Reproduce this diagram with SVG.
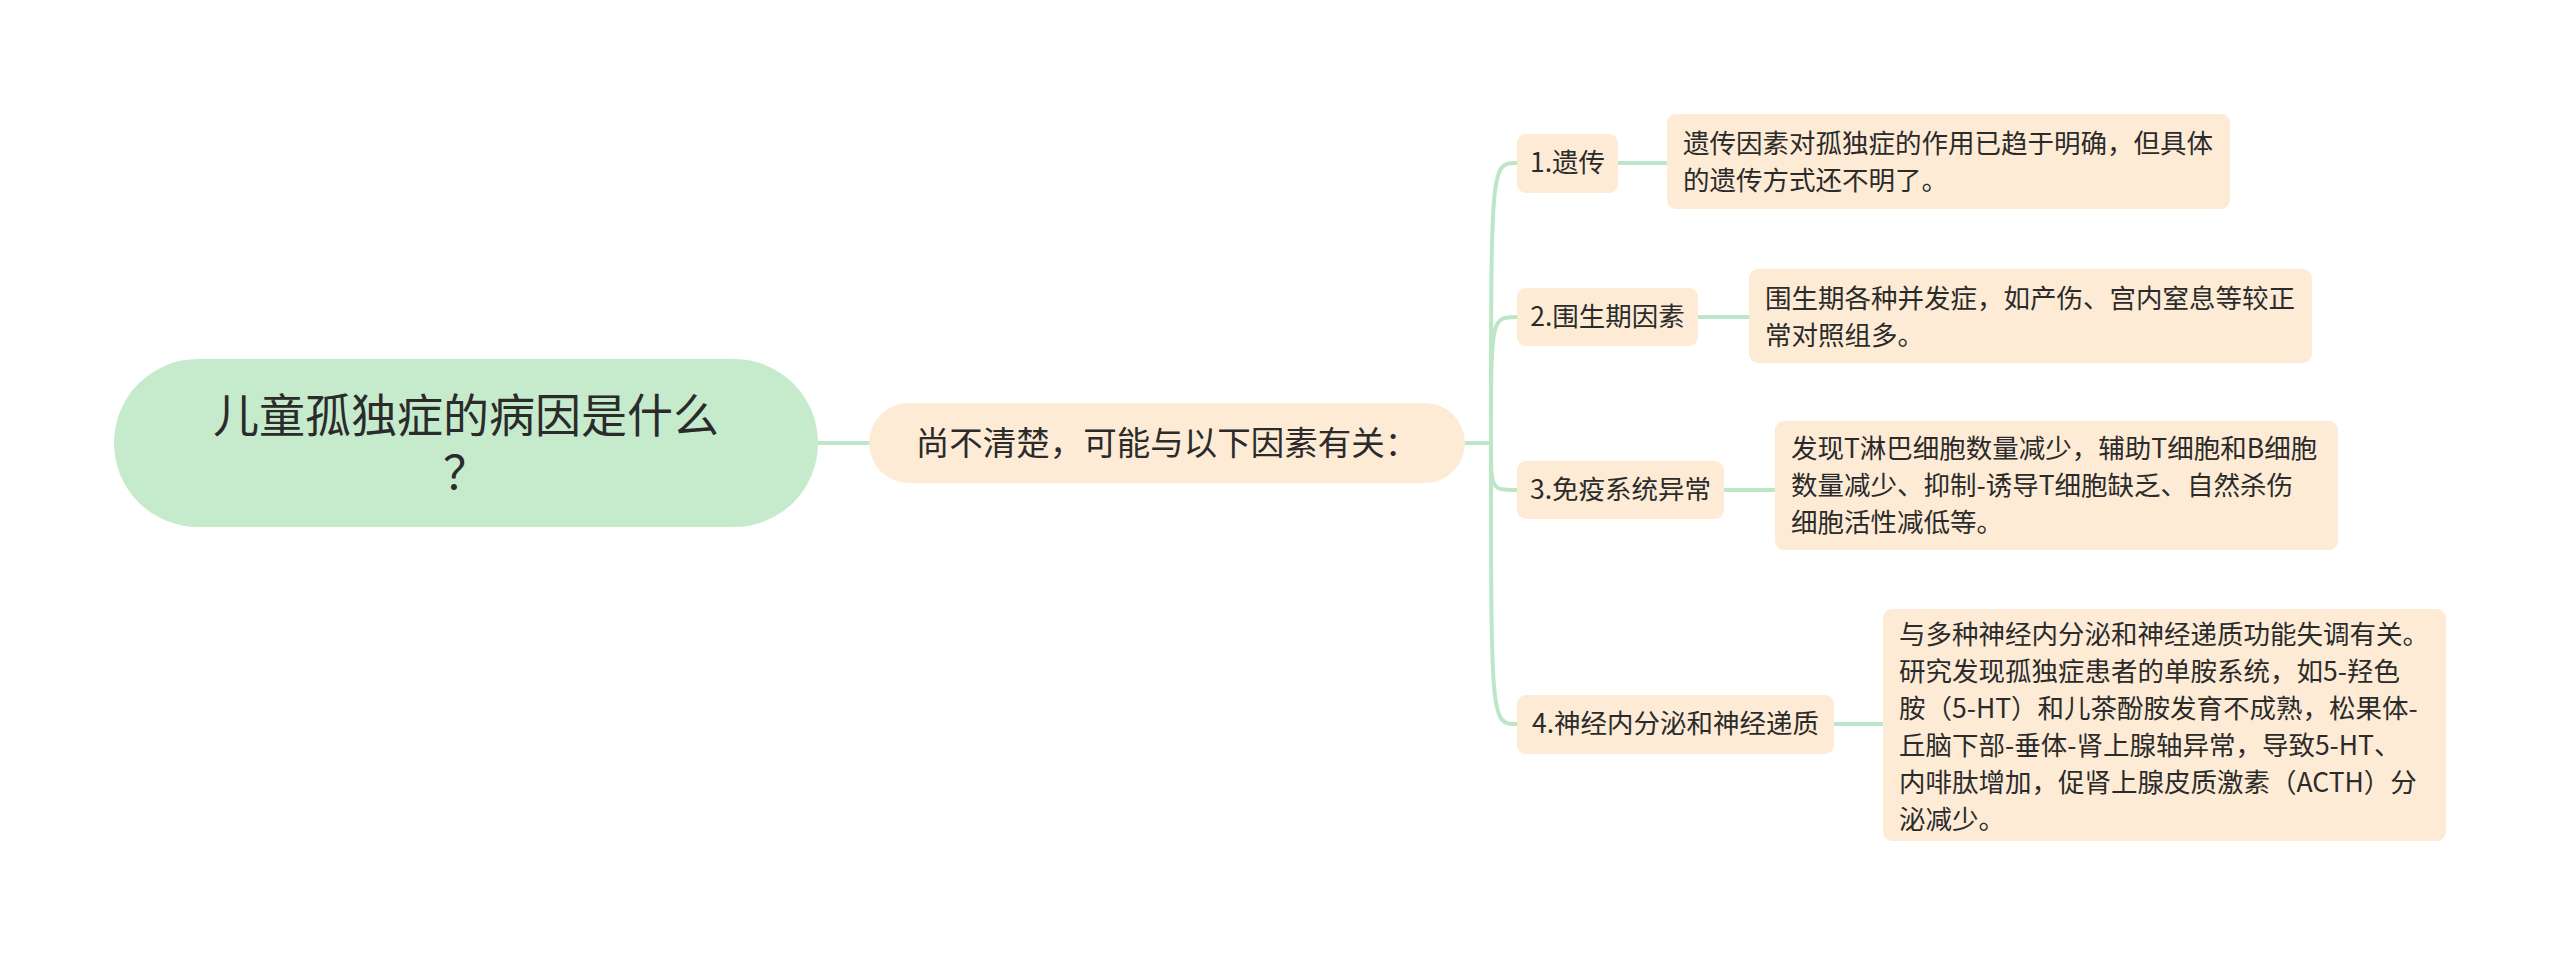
<svg xmlns="http://www.w3.org/2000/svg" width="2560" height="957" viewBox="0 0 2560 957">
<style>
  text { font-family: "Noto Sans CJK SC", "Noto Sans", sans-serif; fill: #2b2b2b; }
  .root { fill: #c6ebcc; }
  .box { fill: #fdebd6; }
  .edge { fill: none; stroke: #bde6c6; stroke-width: 4; stroke-linecap: round; }
  .t46 { font-size: 46px; }
  .t34 { font-size: 33.5px; }
  .t26 { font-size: 26.5px; }
</style>
<rect width="2560" height="957" fill="#ffffff"/>
<g id="connectors">
  <path class="edge" d="M818 443 L869 443"/>
  <path class="edge" d="M1465 443 L1491 443"/>
  <path class="edge" d="M1491 443 C1491 163 1491 163 1517 163"/>
  <path class="edge" d="M1491 443 C1491 317 1491 317 1517 317"/>
  <path class="edge" d="M1491 443 C1491 490 1491 490 1517 490"/>
  <path class="edge" d="M1491 443 C1491 724 1491 724 1517 724"/>
  <path class="edge" d="M1618 163 L1667 163"/>
  <path class="edge" d="M1698 317 L1749 317"/>
  <path class="edge" d="M1724 490 L1775 490"/>
  <path class="edge" d="M1834 724 L1883 724"/>
</g>
<g id="root">
  <rect class="root" x="114" y="359" width="704" height="168" rx="84"/>
  <text class="t46" text-anchor="middle"><tspan x="466" y="432">儿童孤独症的病因是什么</tspan><tspan x="466" y="489">？</tspan></text>
</g>
<g id="main">
  <rect class="box" x="869" y="403" width="596" height="80" rx="40"/>
  <text class="t34" x="1167" y="455" text-anchor="middle">尚不清楚，可能与以下因素有关：</text>
</g>
<g id="c1">
  <rect class="box" x="1517" y="134" width="101" height="59" rx="9"/>
  <text class="t26" x="1567.5" y="172" text-anchor="middle">1.遗传</text>
</g>
<g id="c2">
  <rect class="box" x="1517" y="288" width="181" height="58" rx="9"/>
  <text class="t26" x="1607.5" y="326" text-anchor="middle">2.围生期因素</text>
</g>
<g id="c3">
  <rect class="box" x="1517" y="461" width="207" height="58" rx="9"/>
  <text class="t26" x="1620.5" y="499" text-anchor="middle">3.免疫系统异常</text>
</g>
<g id="c4">
  <rect class="box" x="1517" y="695" width="317" height="59" rx="9"/>
  <text class="t26" x="1675.5" y="733" text-anchor="middle">4.神经内分泌和神经递质</text>
</g>
<g id="l1">
  <rect class="box" x="1667" y="114" width="563" height="95" rx="9"/>
  <text class="t26" x="1683" y="153">遗传因素对孤独症的作用已趋于明确，但具体</text>
  <text class="t26" x="1683" y="190">的遗传方式还不明了。</text>
</g>
<g id="l2">
  <rect class="box" x="1749" y="269" width="563" height="94" rx="9"/>
  <text class="t26" x="1765" y="308">围生期各种并发症，如产伤、宫内窒息等较正</text>
  <text class="t26" x="1765" y="345">常对照组多。</text>
</g>
<g id="l3">
  <rect class="box" x="1775" y="421" width="563" height="129" rx="9"/>
  <text class="t26" x="1791" y="458">发现T淋巴细胞数量减少，辅助T细胞和B细胞</text>
  <text class="t26" x="1791" y="495">数量减少、抑制-诱导T细胞缺乏、自然杀伤</text>
  <text class="t26" x="1791" y="532">细胞活性减低等。</text>
</g>
<g id="l4">
  <rect class="box" x="1883" y="609" width="563" height="232" rx="9"/>
  <text class="t26" x="1899" y="644">与多种神经内分泌和神经递质功能失调有关。</text>
  <text class="t26" x="1899" y="681">研究发现孤独症患者的单胺系统，如5-羟色</text>
  <text class="t26" x="1899" y="718">胺（5-HT）和儿茶酚胺发育不成熟，松果体-</text>
  <text class="t26" x="1899" y="755">丘脑下部-垂体-肾上腺轴异常，导致5-HT、</text>
  <text class="t26" x="1899" y="792">内啡肽增加，促肾上腺皮质激素（ACTH）分</text>
  <text class="t26" x="1899" y="829">泌减少。</text>
</g>
</svg>
